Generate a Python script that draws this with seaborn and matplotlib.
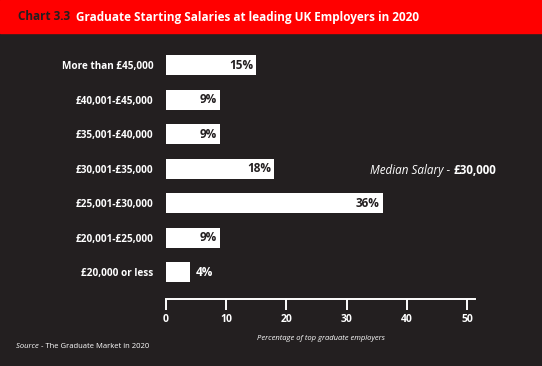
import matplotlib
matplotlib.use('Agg')
import matplotlib.pyplot as plt
import seaborn as sns
import pandas as pd

CATEGORIES = ['More than £45,000', '£40,001-£45,000', '£35,001-£40,000', '£30,001-£35,000',
              '£25,001-£30,000', '£20,001-£25,000', '£20,000 or less']
PERCENTS = [15, 9, 9, 18, 36, 9, 4]
X_TICKS = [0, 10, 20, 30, 40, 50]

BG = '#231f20'
RED = '#ff0000'

sns.set_theme(style='white')
plt.rcParams['font.family'] = ['Open Sans', 'DejaVu Sans']

df = pd.DataFrame({'band': CATEGORIES, 'pct': PERCENTS})

fig = plt.figure(figsize=(5.42, 3.66), dpi=100, facecolor=BG)
ax = fig.add_axes([166 / 542, 1 - 299 / 366, (475 - 166) / 542, 254 / 366])
ax.set_facecolor(BG)

sns.barplot(data=df, x='pct', y='band', orient='h', color='white', width=0.58,
            saturation=1, ax=ax, edgecolor='none')

ax.set_xlim(0, 51.3)
ax.set_ylim(6.78, -0.58)

for i, v in enumerate(PERCENTS):
    if v >= 8:
        ax.text(v - 0.5, i, f'{v}%', ha='right', va='center', color=BG,
                fontsize=8.5, fontweight='bold')
    else:
        ax.text(v + 0.9, i, f'{v}%', ha='left', va='center', color='white',
                fontsize=8.5, fontweight='bold')

for s in ['top', 'right', 'left']:
    ax.spines[s].set_visible(False)
ax.spines['bottom'].set_color('white')
ax.spines['bottom'].set_linewidth(1.4)

ax.set_xticks(X_TICKS)
ax.tick_params(axis='x', colors='white', length=8, width=1.4, direction='out',
               labelsize=7.5, pad=3, bottom=True)
for lbl in ax.get_xticklabels():
    lbl.set_fontweight('bold')
ax.tick_params(axis='y', colors='white', length=0, labelsize=7.2, pad=9)
for lbl in ax.get_yticklabels():
    lbl.set_fontweight('bold')
ax.set_ylabel('')
ax.set_xlabel('Percentage of top graduate employers', color='white', fontsize=5.5,
              style='italic', labelpad=7)


def text_run(x, y, parts):
    # draw pieces of text one after another on the same line
    r = fig.canvas.get_renderer()
    for s, kw in parts:
        t = fig.text(x, y, s, va='center', ha='left', **kw)
        bb = t.get_window_extent(renderer=r)
        x += bb.width / fig.bbox.width


# median annotation
text_run(370 / 542, 1 - 170 / 366, [
    ('Median Salary - ', dict(color='white', fontsize=8.4, style='italic')),
    ('£30,000', dict(color='white', fontsize=8.4, fontweight='bold')),
])

# header band
fig.patches.append(plt.Rectangle((0, 1 - 33 / 366), 1, 33 / 366, transform=fig.transFigure,
                                 color=RED, zorder=0))
text_run(18 / 542, 1 - 17 / 366, [
    ('Chart 3.3  ', dict(color=BG, fontsize=8.5, fontweight='bold')),
    ('Graduate Starting Salaries at leading UK Employers in 2020',
     dict(color='white', fontsize=8.5, fontweight='bold')),
])

text_run(16 / 542, 1 - 347 / 366, [
    ('Source ', dict(color='white', fontsize=5.5, style='italic')),
    ('- The Graduate Market in 2020', dict(color='white', fontsize=5.5)),
])

fig.savefig('out.png', dpi=100, facecolor=BG)
